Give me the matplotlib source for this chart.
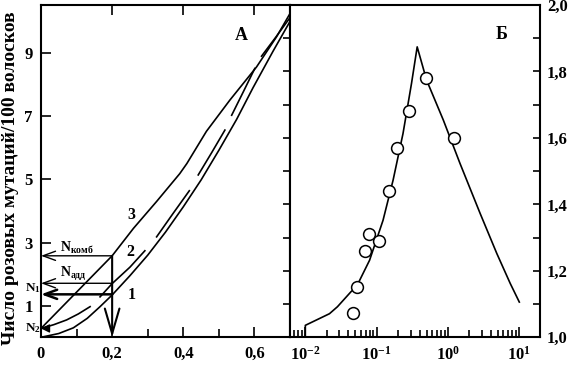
import numpy as np
import matplotlib
matplotlib.use('Agg')
import matplotlib.pyplot as plt
from matplotlib.ticker import FixedLocator, NullFormatter, LogLocator

plt.rcParams['font.family'] = ['Liberation Serif', 'DejaVu Serif']
plt.rcParams['font.weight'] = 'bold'
plt.rcParams['mathtext.fontset'] = 'custom'
plt.rcParams['mathtext.rm'] = 'Liberation Serif:bold'
plt.rcParams['mathtext.bf'] = 'Liberation Serif:bold'
plt.rcParams['mathtext.it'] = 'Liberation Serif:bold:italic'
plt.rcParams['axes.linewidth'] = 1.5

# ---------------- Panel A data ----------------
dose_ticks = [0, 0.2, 0.4, 0.6]
dose_labels = ['0', '0,2', '0,4', '0,6']
dose_minor = [0.1, 0.3, 0.5]
count_ticks = [1, 3, 5, 7, 9]
count_labels = ['1', '3', '5', '7', '9']

curve1_x = [0, 0.05, 0.091, 0.13, 0.166, 0.2, 0.25, 0.3, 0.35, 0.40, 0.45, 0.50, 0.55, 0.596, 0.652, 0.70]
curve1_y = [0, 0.12, 0.30, 0.60, 0.97, 1.34, 1.95, 2.60, 3.33, 4.13, 4.98, 5.92, 6.90, 7.90, 9.05, 10.0]

nan = np.nan
curve2_x = [0, 0.036, 0.072, 0.105, 0.138, nan, 0.166, 0.2, 0.25, 0.292, nan,
            0.325, 0.37, 0.417, nan, 0.442, 0.48, 0.517, nan, 0.536, 0.57, 0.601, nan,
            0.62, 0.66, 0.70]
curve2_y = [0.28, 0.40, 0.55, 0.74, 0.97, nan, 1.28, 1.70, 2.22, 2.74, nan,
            3.18, 3.90, 4.64, nan, 5.14, 5.85, 6.56, nan, 7.03, 7.80, 8.51, nan,
            8.90, 9.50, 10.12]

curve3_x = [0, 0.1, 0.2, 0.26, 0.325, 0.39, 0.41, 0.465, 0.531, 0.606, 0.662, 0.70]
curve3_y = [0.28, 1.43, 2.58, 3.45, 4.30, 5.18, 5.50, 6.52, 7.51, 8.56, 9.51, 10.25]

dose_mark = 0.2
n_komb = 2.58
n_add = 1.71
n_1 = 1.36
n_2 = 0.28

# ---------------- Panel B data ----------------
fit_x = [0.01, 0.01, 0.0218, 0.0282, 0.0436, 0.0518, 0.0796, 0.1228, 0.170, 0.234, 0.308, 0.370,
         0.501, 0.859, 1.475, 2.82, 4.84, 7.46, 10.0]
fit_y = [1.0, 1.036, 1.071, 1.092, 1.137, 1.151, 1.232, 1.352, 1.473, 1.613, 1.764, 1.874,
         1.774, 1.654, 1.523, 1.373, 1.252, 1.162, 1.106]

pts_x = [0.0459, 0.0522, 0.0678, 0.0789, 0.109, 0.151, 0.191, 0.280, 0.497, 1.22]
pts_y = [1.072, 1.150, 1.261, 1.310, 1.291, 1.441, 1.571, 1.681, 1.781, 1.601]

ratio_ticks = [1.0, 1.2, 1.4, 1.6, 1.8, 2.0]
ratio_labels = ['1,0', '1,2', '1,4', '1,6', '1,8', '2,0']
ratio_minor = [1.1, 1.3, 1.5, 1.7, 1.9]
div_ticks = [1.1, 1.2, 1.3, 1.4, 1.5, 1.6, 1.7, 1.8, 1.9]
decade_ticks = [0.01, 0.1, 1, 10]
decade_labels = [r'$\mathbf{10^{-2}}$', r'$\mathbf{10^{-1}}$', r'$\mathbf{10^{0}}$', r'$\mathbf{10^{1}}$']

W, H = 569, 368
fig = plt.figure(figsize=(W / 100, H / 100), dpi=100)
bottom = (H - 337.3) / H
height = (337.3 - 5) / H

# ---------- Panel A ----------
axA = fig.add_axes([41 / W, bottom, (290 - 41) / W, height])
axA.set_xlim(0, 0.70)
axA.set_ylim(0, 10.52)
lw = 1.2
axA.plot(curve1_x, curve1_y, color='black', lw=lw)
axA.plot(curve2_x, curve2_y, color='black', lw=lw)
axA.plot(curve3_x, curve3_y, color='black', lw=lw)

arrow_kw = dict(arrowstyle='->,head_length=0.6,head_width=0.22', color='black',
                shrinkA=0, shrinkB=0, mutation_scale=15)
axA.annotate('', xy=(0, n_komb), xytext=(dose_mark, n_komb), arrowprops=dict(lw=1.0, **arrow_kw))
axA.annotate('', xy=(0, n_add), xytext=(dose_mark, n_add), arrowprops=dict(lw=1.0, **arrow_kw))
axA.annotate('', xy=(0, n_1), xytext=(dose_mark, n_1), arrowprops=dict(lw=1.8, **arrow_kw))
axA.annotate('', xy=(dose_mark, 0), xytext=(dose_mark, n_komb),
             arrowprops=dict(arrowstyle='->,head_length=1.2,head_width=0.35', color='black',
                             shrinkA=0, shrinkB=0, mutation_scale=15, lw=1.5))
axA.annotate('', xy=(0, n_2), xytext=(0.02, n_2),
             arrowprops=dict(arrowstyle='-|>,head_length=0.5,head_width=0.25', color='black',
                             shrinkA=0, shrinkB=0, mutation_scale=10, lw=1.0))

axA.text(0.053, 2.70, r'$\mathregular{N_{комб}}$', fontsize=10, ha='left', va='baseline')
axA.text(0.053, 1.91, r'$\mathregular{N_{адд}}$', fontsize=10, ha='left', va='baseline')
axA.text(-0.045, 1.45, r'$\mathregular{N_1}$', fontsize=9.5, ha='left', va='baseline', clip_on=False)
axA.text(-0.045, 0.20, r'$\mathregular{N_2}$', fontsize=9.5, ha='left', va='baseline', clip_on=False)

axA.text(0.255, 1.34, '1', fontsize=11.5, ha='center', va='center')
axA.text(0.252, 2.71, '2', fontsize=11.5, ha='center', va='center')
axA.text(0.255, 3.87, '3', fontsize=11.5, ha='center', va='center')
axA.text(0.563, 9.57, 'А', fontsize=13, ha='center', va='center')

axA.set_xticks(dose_ticks)
axA.set_xticklabels(dose_labels)
axA.xaxis.set_minor_locator(FixedLocator(dose_minor))
axA.set_yticks(count_ticks)
axA.set_yticklabels(count_labels)
axA.tick_params(axis='x', which='major', direction='in', length=7, width=1.2, top=True,
                bottom=True, pad=6, labelsize=12)
axA.tick_params(axis='x', which='minor', direction='in', length=6, width=1.2, top=False, bottom=True)
axA.tick_params(axis='y', which='major', direction='in', length=7, width=1.2, left=True,
                right=False, pad=6, labelsize=12)
axA.spines['right'].set_visible(False)

fig.text(11 / W, 1 - 178 / H, 'Число розовых мутаций/100 волосков', rotation=90,
         fontsize=14, ha='center', va='center')

axT = axA.twinx()
axT.set_ylim(1.0, 2.0)
axT.set_yticks(div_ticks)
axT.tick_params(axis='y', direction='in', length=5, width=1.2, labelright=False)
for s in ['left', 'top', 'bottom']:
    axT.spines[s].set_visible(False)

# ---------- Panel B ----------
axB = fig.add_axes([290 / W, bottom, (540 - 290) / W, height])
axB.set_xscale('log')
axB.set_xlim(10 ** -2.215, 10 ** 1.29)
axB.set_ylim(1.0, 2.0)
axB.plot(fit_x, fit_y, color='black', lw=lw)
axB.plot(pts_x, pts_y, 'o', ms=8.5, mfc='white', mec='black', mew=1.1, clip_on=False)
axB.text(5.65, 1.91, 'Б', fontsize=13, ha='center', va='center')

axB.set_xticks(decade_ticks)
axB.set_xticklabels(decade_labels)
axB.xaxis.set_minor_locator(LogLocator(base=10, subs=np.arange(2, 10)))
axB.xaxis.set_minor_formatter(NullFormatter())
axB.tick_params(axis='x', which='major', direction='in', length=7, width=1.2, top=False,
                pad=6, labelsize=12)
axB.tick_params(axis='x', which='minor', direction='in', length=5, width=1.2, top=False)
axB.set_yticks(ratio_ticks)
axB.set_yticklabels(ratio_labels)
axB.yaxis.set_minor_locator(FixedLocator(ratio_minor))
axB.tick_params(axis='y', which='both', direction='in', length=5, width=1.2, left=False,
                right=True, labelleft=False, labelright=True, pad=5, labelsize=12)

fig.savefig('out.png', dpi=100)
